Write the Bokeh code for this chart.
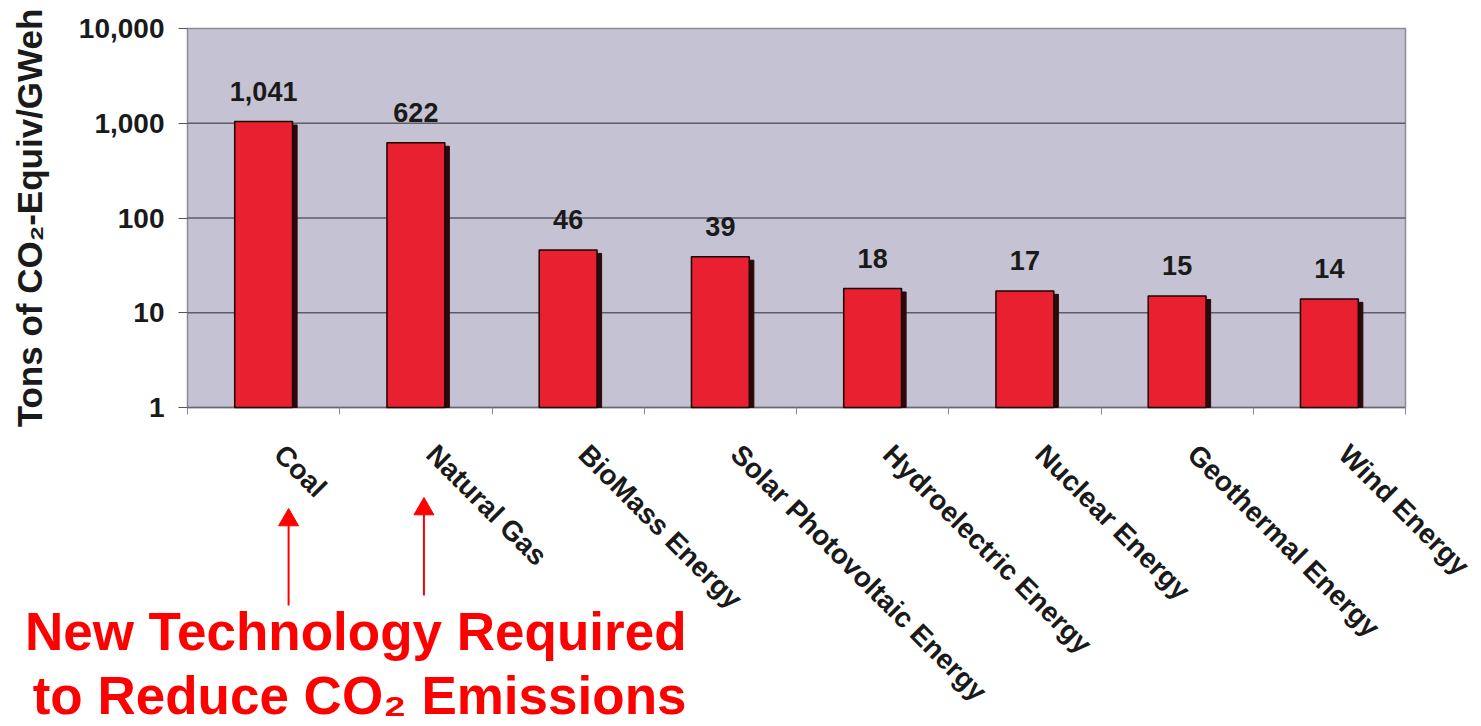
import math
from bokeh.plotting import figure
from bokeh.models import Range1d, FixedTicker, NumeralTickFormatter, ColumnDataSource
from bokeh.transform import dodge
from bokeh.core.properties import value
from bokeh.embed import file_html
from bokeh.resources import INLINE

# ---- data ----
categories = ["Coal", "Natural Gas", "BioMass Energy", "Solar Photovoltaic Energy",
              "Hydroelectric Energy", "Nuclear Energy", "Geothermal Energy", "Wind Energy"]
emissions = [1041, 622, 46, 39, 18, 17, 15, 14]
y_ticks = [1, 10, 100, 1000, 10000]
y_title = "Tons of CO\u2082-Equiv/GWeh"
highlighted = ["Coal", "Natural Gas"]
note_lines = ["New Technology Required", "to Reduce CO\u2082 Emissions"]

FONT = "Liberation Sans"
RED = "#e8202f"
DARK = "#1a1a1a"

# ---- layout geometry (pixels) ----
W, H = 1475, 724
AREA_L, AREA_R, AREA_T, AREA_B = 187, 1405, 28, 407   # grey plot area
n = len(categories)
decades = math.log10(y_ticks[-1] / y_ticks[0])
ppc = (AREA_R - AREA_L) / n          # pixels per category
ppd = (AREA_B - AREA_T) / decades    # pixels per decade


def px_x(px):
    return (px - AREA_L) / ppc


def px_y(py):
    return y_ticks[0] * 10 ** (-(py - AREA_B) / ppd)


xpos = [i + 0.5 for i in range(n)]
src = ColumnDataSource(dict(
    x=xpos,
    top=emissions,
    shadow_top=[v * 0.92 for v in emissions],
    label=[f"{v:,}" for v in emissions],
))

p = figure(width=W, height=H, output_backend="svg", toolbar_location=None,
           y_axis_type="log",
           x_range=Range1d(px_x(0), px_x(W)), y_range=Range1d(px_y(H), px_y(0)),
           min_border=0)
p.background_fill_color = "white"
p.border_fill_color = "white"
p.outline_line_color = None

# grey plot area
p.quad(left=0, right=n, bottom=y_ticks[0], top=y_ticks[-1],
       fill_color="#c5c2d3", line_color="#8c8a98", line_width=1.5)
# horizontal grid lines
p.segment(x0=0, x1=n, y0=y_ticks[1:-1], y1=y_ticks[1:-1],
          line_color="#5e5c68", line_width=1.3)
# bottom axis line
p.segment(x0=[0], x1=[n], y0=[y_ticks[0]], y1=[y_ticks[0]],
          line_color="#6a6874", line_width=1.5)

# shadow + bars
p.vbar(x=dodge("x", 0.03), top="shadow_top", bottom=y_ticks[0], width=0.38, source=src,
       fill_color="#2a0a0a", line_color="#2a0a0a")
p.vbar(x="x", top="top", bottom=y_ticks[0], width=0.38, source=src,
       fill_color=RED, line_color="#1a0505", line_width=1.5)

# value labels
p.text(x="x", y="top", text="label", source=src, text_align="center",
       text_baseline="bottom", y_offset=-21, text_font=value(FONT),
       text_font_style="bold", text_font_size="27px", text_color=DARK)

# y axis, fixed at the left edge of the grey area
p.yaxis.fixed_location = 0
p.yaxis.ticker = FixedTicker(ticks=y_ticks, minor_ticks=[])
p.yaxis.formatter = NumeralTickFormatter(format="0,0")
p.yaxis.major_label_text_font = FONT
p.yaxis.major_label_text_font_style = "bold"
p.yaxis.major_label_text_font_size = "28px"
p.yaxis.major_label_text_color = DARK
p.yaxis.major_tick_out = 9
p.yaxis.major_tick_in = 0
p.yaxis.major_tick_line_color = "#55535e"
p.yaxis.axis_line_color = None
p.yaxis.major_label_standoff = 14

# y title (rotated)
p.text(x=[px_x(29)], y=[math.sqrt(y_ticks[0] * y_ticks[-1])], text=[y_title],
       angle=math.pi / 2, text_align="center", text_baseline="middle",
       text_font=value(FONT), text_font_style="bold", text_font_size="35px",
       text_color=DARK)

# x axis, fixed at y = 1 (labels hang slightly right of the bar centres)
label_ticks = [x + 0.1 for x in xpos]
p.xaxis.fixed_location = y_ticks[0]
p.xaxis.ticker = FixedTicker(ticks=label_ticks, minor_ticks=list(range(n + 1)))
p.xaxis.major_label_overrides = {x: c for x, c in zip(label_ticks, categories)}
p.xaxis.major_label_orientation = -math.pi / 4
p.xaxis.major_label_text_font = FONT
p.xaxis.major_label_text_font_style = "bold"
p.xaxis.major_label_text_font_size = "28px"
p.xaxis.major_label_text_color = DARK
p.xaxis.major_label_standoff = 35
p.xaxis.major_tick_out = 0
p.xaxis.major_tick_in = 0
p.xaxis.minor_tick_out = 7
p.xaxis.minor_tick_in = 0
p.xaxis.minor_tick_line_color = "#8c8a98"
p.xaxis.axis_line_color = None

p.xgrid.grid_line_color = None
p.ygrid.grid_line_color = None

# annotation arrows pointing up at the highlighted categories
arrow_offsets = [0.164, 0.053]      # in category units, right of bar centre
arrow_tail_px = [605, 595]
arrow_tip_px = [508, 497]
HEAD = 20
ax = [categories.index(c) + 0.5 + o for c, o in zip(highlighted, arrow_offsets)]
p.segment(x0=ax, x1=ax, y0=[px_y(t) for t in arrow_tail_px],
          y1=[px_y(t + HEAD * 0.7) for t in arrow_tip_px],
          line_color="red", line_width=2)
p.scatter(x=ax, y=[px_y(t + HEAD * 0.577) for t in arrow_tip_px], marker="triangle",
          size=HEAD, fill_color="red", line_color="red")

# red note text
note_anchor_px = [631, 695]
for line, bpx in zip(note_lines, note_anchor_px):
    p.text(x=[px_x(686)], y=[px_y(bpx)], text=[line], text_align="right",
           text_baseline="alphabetic", text_font=value(FONT), text_font_style="bold",
           text_font_size="53px", text_color="#ff0000")

open("out.html", "w").write(file_html(p, INLINE))
